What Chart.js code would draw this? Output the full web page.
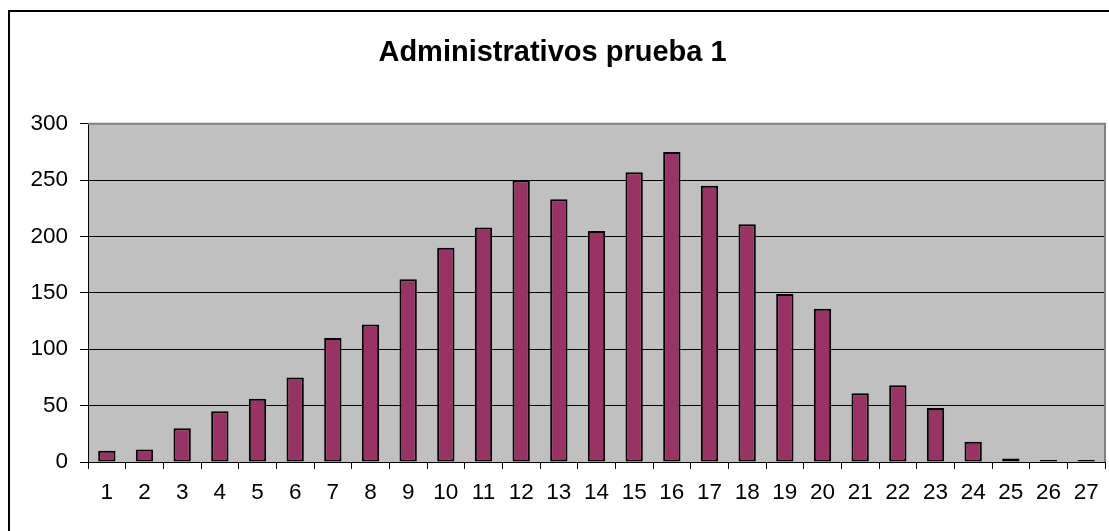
<!DOCTYPE html>
<html>
<head>
<meta charset="utf-8">
<script src="https://cdn.jsdelivr.net/npm/chart.js@4/dist/chart.umd.min.js"></script>
<style>
  html, body { margin: 0; padding: 0; background: #ffffff; }
  #wrap { position: absolute; left: 0; top: 0; width: 1109px; height: 531px; }
</style>
</head>
<body>
<div id="wrap"><canvas id="c" width="1109" height="531"></canvas></div>
<script>
const titleText = 'Administrativos prueba 1';
const categories = ['1','2','3','4','5','6','7','8','9','10','11','12','13','14','15','16','17','18','19','20','21','22','23','24','25','26','27'];
const values = [10, 11, 30, 45, 56, 75, 110, 122, 162, 190, 208, 250, 233, 205, 257, 275, 245, 211, 149, 136, 61, 68, 48, 18, 3, 1, 1];
const yTicks = [0, 50, 100, 150, 200, 250, 300];

const FONT = "'Liberation Sans', Arial, sans-serif";

const framePlugin = {
  id: 'framePlugin',
  beforeDraw(chart) {
    const ctx = chart.ctx;
    const a = chart.chartArea;
    ctx.save();
    ctx.fillStyle = '#ffffff';
    ctx.fillRect(0, 0, chart.width, chart.height);
    ctx.strokeStyle = '#000000';
    ctx.lineWidth = 2;
    ctx.strokeRect(9, 11, 1200, 1200);
    ctx.fillStyle = '#c0c0c0';
    ctx.fillRect(a.left, a.top, a.right - a.left, a.bottom - a.top);
    ctx.restore();
  },
  beforeDatasetsDraw(chart) {
    const ctx = chart.ctx;
    const a = chart.chartArea;
    ctx.save();
    ctx.strokeStyle = '#808080';
    ctx.lineWidth = 2;
    ctx.beginPath();
    ctx.moveTo(a.left, a.top);
    ctx.lineTo(a.right, a.top);
    ctx.lineTo(a.right, a.bottom);
    ctx.stroke();
    ctx.restore();
  }
};

new Chart(document.getElementById('c'), {
  type: 'bar',
  data: {
    labels: categories,
    datasets: [{
      data: values,
      backgroundColor: '#993366',
      borderColor: '#000000',
      borderWidth: 2,
      borderSkipped: false,
      minBarLength: 2,
      categoryPercentage: 1.0,
      barPercentage: 0.46
    }]
  },
  options: {
    responsive: false,
    animation: false,
    devicePixelRatio: 1,
    layout: { padding: { left: 0, right: 4, top: 0, bottom: 0 } },
    plugins: {
      legend: { display: false },
      tooltip: { enabled: false },
      title: {
        display: true,
        text: titleText,
        color: '#000000',
        font: { family: FONT, size: 29, weight: 'bold', lineHeight: 1.2 },
        padding: { top: 36, bottom: 53 }
      }
    },
    scales: {
      x: {
        grid: {
          display: true,
          offset: true,
          drawOnChartArea: false,
          drawTicks: true,
          tickLength: 7,
          color: '#000000',
          lineWidth: 1
        },
        border: { display: true, color: '#000000', width: 1 },
        ticks: {
          color: '#000000',
          font: { family: FONT, size: 22.5 },
          padding: 10,
          maxRotation: 0,
          autoSkip: false
        },
        afterFit(scale) { scale.height = 69; }
      },
      y: {
        min: 0,
        max: 300,
        afterBuildTicks(scale) { scale.ticks = yTicks.map(v => ({ value: v })); },
        grid: {
          display: true,
          drawTicks: true,
          tickLength: 8,
          color: '#000000',
          lineWidth: 1
        },
        border: { display: true, color: '#000000', width: 1 },
        ticks: {
          color: '#000000',
          font: { family: FONT, size: 22.5 },
          padding: 12
        },
        afterFit(scale) { scale.width = 88; }
      }
    }
  },
  plugins: [framePlugin]
});
</script>
</body>
</html>
